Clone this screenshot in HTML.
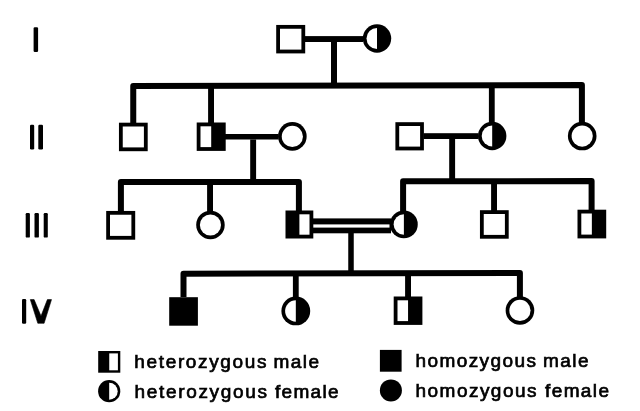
<!DOCTYPE html>
<html><head><meta charset="utf-8"><style>
html,body{margin:0;padding:0;background:#fff;}
svg{display:block;will-change:transform;}
text{font-family:"Liberation Sans",sans-serif;font-size:19.0px;font-weight:normal;fill:#000;stroke:#000;stroke-width:0.7px;}
</style></head><body>
<svg width="640" height="411" viewBox="0 0 640 411">
<rect x="305" y="36.1" width="58" height="5.9" fill="#000"/>
<rect x="331" y="42" width="6" height="44" fill="#000"/>
<path d="M133.25 123V86.1L581.9 85.1V123" fill="none" stroke="#000" stroke-width="6" stroke-linejoin="round"/>
<rect x="276.2" y="24.95" width="29.0" height="28.45" fill="#000"/>
<rect x="280.0" y="28.75" width="21.4" height="20.85" fill="#fff"/>
<circle cx="377.0" cy="38.5" r="14.2" fill="#000"/>
<path d="M377.0 28.0A10.5 10.5 0 0 0 377.0 49.0Z" fill="#fff"/>
<rect x="208.1" y="85" width="5.9" height="38" fill="#000"/>
<rect x="488.9" y="85" width="5.8" height="38" fill="#000"/>
<rect x="225" y="134" width="53.5" height="5.5" fill="#000"/>
<rect x="250.2" y="139.5" width="5.9" height="41.5" fill="#000"/>
<rect x="423.5" y="133.2" width="55.0" height="5.8" fill="#000"/>
<rect x="449.2" y="139" width="5.9" height="42" fill="#000"/>
<rect x="118.95" y="122.7" width="28.75" height="28.5" fill="#000"/>
<rect x="122.75" y="126.5" width="21.15" height="20.9" fill="#fff"/>
<rect x="196.7" y="122.5" width="29.0" height="28.4" fill="#000"/>
<rect x="200.5" y="126.3" width="10.7" height="20.8" fill="#fff"/>
<circle cx="292.35" cy="136.4" r="14.3" fill="#000"/>
<circle cx="292.35" cy="136.4" r="10.6" fill="#fff"/>
<rect x="395.4" y="122.2" width="28.5" height="28.2" fill="#000"/>
<rect x="399.2" y="126.0" width="20.9" height="20.6" fill="#fff"/>
<circle cx="492.2" cy="135.95" r="14.2" fill="#000"/>
<path d="M492.2 125.45A10.5 10.5 0 0 0 492.2 146.45Z" fill="#fff"/>
<circle cx="582.2" cy="136.05" r="14.3" fill="#000"/>
<circle cx="582.2" cy="136.05" r="10.6" fill="#fff"/>
<path d="M120.9 211V182.0L298.9 181.9V211" fill="none" stroke="#000" stroke-width="6" stroke-linejoin="round"/>
<path d="M403.1 211V181.25L591.6 181.1V211" fill="none" stroke="#000" stroke-width="6" stroke-linejoin="round"/>
<rect x="207.1" y="182" width="5.9" height="30" fill="#000"/>
<rect x="491.1" y="182" width="5.9" height="29" fill="#000"/>
<rect x="313" y="218.4" width="78" height="14.9" fill="#000"/>
<rect x="313" y="224.4" width="76.5" height="3.2" fill="#fff"/>
<rect x="348.25" y="233" width="5.5" height="39" fill="#000"/>
<rect x="106.2" y="210.95" width="29.0" height="28.75" fill="#000"/>
<rect x="110.0" y="214.75" width="21.4" height="21.15" fill="#fff"/>
<circle cx="210.45" cy="224.95" r="14.25" fill="#000"/>
<circle cx="210.45" cy="224.95" r="10.55" fill="#fff"/>
<rect x="285.5" y="210.5" width="27.8" height="28.0" fill="#000"/>
<rect x="299.4" y="214.3" width="10.1" height="20.4" fill="#fff"/>
<circle cx="403.85" cy="224.45" r="13.9" fill="#000"/>
<path d="M403.85 214.25A10.2 10.2 0 0 0 403.85 234.65Z" fill="#fff"/>
<rect x="479.95" y="210.2" width="28.75" height="28.5" fill="#000"/>
<rect x="483.75" y="214.0" width="21.15" height="20.9" fill="#fff"/>
<rect x="577.5" y="209.7" width="28.7" height="28.7" fill="#000"/>
<rect x="581.3" y="213.5" width="10.55" height="21.1" fill="#fff"/>
<path d="M183.5 297V273.75L519.9 272.9V297" fill="none" stroke="#000" stroke-width="6" stroke-linejoin="round"/>
<rect x="292.9" y="273" width="5.8" height="24" fill="#000"/>
<rect x="405.1" y="273" width="5.9" height="24" fill="#000"/>
<rect x="169.2" y="297.2" width="28.7" height="28.5" fill="#000"/>
<circle cx="295.8" cy="310.95" r="14.4" fill="#000"/>
<path d="M295.8 300.25A10.7 10.7 0 0 0 295.8 321.65Z" fill="#fff"/>
<rect x="393.7" y="296.5" width="28.7" height="28.4" fill="#000"/>
<rect x="397.5" y="300.3" width="10.55" height="20.8" fill="#fff"/>
<circle cx="519.95" cy="310.45" r="14.3" fill="#000"/>
<circle cx="519.95" cy="310.45" r="10.6" fill="#fff"/>
<rect x="33.6" y="27.2" width="4.5" height="24.7" rx="1.2" fill="#000"/>
<rect x="30" y="124.8" width="4.2" height="24.6" rx="1.2" fill="#000"/>
<rect x="38.3" y="124.8" width="4.7" height="24.6" rx="1.2" fill="#000"/>
<rect x="25.7" y="213" width="4.2" height="24.6" rx="1.2" fill="#000"/>
<rect x="34.5" y="213" width="4.4" height="24.6" rx="1.2" fill="#000"/>
<rect x="43.7" y="213" width="4.1" height="24.6" rx="1.2" fill="#000"/>
<rect x="22" y="299" width="4.2" height="24.7" rx="1.2" fill="#000"/>
<polygon points="30.3,299.6 34.1,299.6 41,316 47.4,299.6 51.5,299.6 44.1,323.3 37.8,323.3" fill="#000" stroke="#000" stroke-width="0.6" stroke-linejoin="round"/>
<rect x="98.2" y="351" width="22.1" height="21.7" fill="#000"/>
<rect x="109.25" y="353.4" width="8.65" height="16.9" fill="#fff"/>
<circle cx="109.2" cy="391.2" r="11.1" fill="#000"/>
<path d="M109.2 382.7A8.5 8.5 0 0 1 109.2 399.7Z" fill="#fff"/>
<rect x="379.9" y="349.9" width="21.7" height="21.8" fill="#000"/>
<circle cx="390.9" cy="390.4" r="11" fill="#000"/>
<text x="134.3" y="368.1" textLength="132.2" lengthAdjust="spacing">heterozygous</text>
<text x="273.5" y="368.1" textLength="45.5" lengthAdjust="spacing">male</text>
<text x="134.5" y="398.0" textLength="132.5" lengthAdjust="spacing">heterozygous</text>
<text x="275.0" y="398.0" textLength="63.5" lengthAdjust="spacing">female</text>
<text x="415.5" y="366.9" textLength="120.5" lengthAdjust="spacing">homozygous</text>
<text x="543.0" y="366.9" textLength="45.5" lengthAdjust="spacing">male</text>
<text x="415.5" y="396.8" textLength="121.0" lengthAdjust="spacing">homozygous</text>
<text x="545.0" y="396.8" textLength="64.0" lengthAdjust="spacing">female</text>
</svg>
</body></html>
